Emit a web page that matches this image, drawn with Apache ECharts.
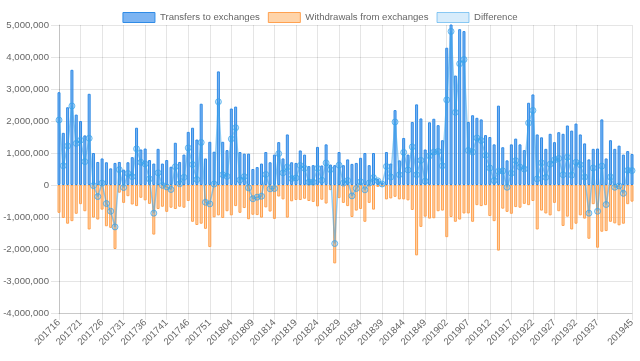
<!DOCTYPE html>
<html>
<head>
<meta charset="utf-8">
<script src="https://cdn.jsdelivr.net/npm/echarts@6/dist/echarts.min.js"></script>
<style>
  html, body { margin: 0; padding: 0; background: #fff; }
  #chart { width: 640px; height: 361px; }
</style>
</head>
<body>
<div id="chart"></div>
<script>
const categories = [
  "201716","201717","201718","201719","201720","201721","201722","201723","201724","201725",
  "201726","201727","201728","201729","201730","201731","201732","201733","201734","201735",
  "201736","201737","201738","201739","201740","201741","201742","201743","201744","201745",
  "201746","201747","201748","201749","201750","201751","201752",
  "201801","201802","201803","201804","201805","201806","201807","201808","201809","201810",
  "201811","201812","201813","201814","201815","201816","201817","201818","201819","201820",
  "201821","201822","201823","201824","201825","201826","201827","201828","201829","201830",
  "201831","201832","201833","201834","201835","201836","201837","201838","201839","201840",
  "201841","201842","201843","201844","201845","201846","201847","201848","201849","201850",
  "201851","201852",
  "201901","201902","201903","201904","201905","201906","201907","201908","201909","201910",
  "201911","201912","201913","201914","201915","201916","201917","201918","201919","201920",
  "201921","201922","201923","201924","201925","201926","201927","201928","201929","201930",
  "201931","201932","201933","201934","201935","201936","201937","201938","201939","201940",
  "201941","201942","201943","201944","201945"
];

const transfersToExchanges = [
  2900000,1630000,2430000,3600000,2200000,2000000,1550000,2850000,1000000,720000,
  830000,710000,520000,690000,720000,480000,710000,870000,1790000,1110000,
  1140000,780000,670000,1130000,670000,780000,570000,1320000,720000,950000,
  1660000,1790000,1420000,2540000,830000,1350000,1040000,3550000,1350000,1090000,
  2390000,2450000,1030000,980000,980000,500000,560000,670000,1030000,710000,
  950000,1340000,830000,1580000,710000,690000,1080000,950000,590000,620000,
  1190000,610000,1270000,640000,620000,1030000,620000,800000,660000,690000,
  850000,1000000,620000,1000000,190000,80000,1030000,670000,2340000,770000,
  1470000,950000,1970000,2520000,2080000,1110000,1960000,2070000,1870000,1400000,
  4290000,5800000,3420000,4870000,4810000,1970000,2180000,2100000,2050000,1560000,
  1500000,1270000,2480000,1180000,770000,1270000,1450000,1270000,1090000,2570000,
  2830000,1580000,1490000,1130000,1600000,1340000,1650000,1600000,1860000,1700000,
  1920000,1580000,1300000,800000,1130000,1140000,2050000,830000,1400000,1130000,
  1230000,950000,1060000,970000
];

const withdrawalsFromExchanges = [
  -870000,-1030000,-1210000,-1130000,-900000,-600000,-820000,-1390000,-1020000,-1080000,
  -770000,-1290000,-1340000,-2000000,-240000,-560000,-350000,-610000,-660000,-400000,
  -480000,-590000,-1550000,-750000,-680000,-840000,-710000,-750000,-680000,-710000,
  -500000,-1150000,-1250000,-1210000,-1370000,-1940000,-1010000,-950000,-1030000,-820000,
  -950000,-660000,-870000,-720000,-1070000,-930000,-940000,-1020000,-700000,-830000,
  -1060000,-360000,-450000,-1020000,-510000,-470000,-470000,-430000,-500000,-530000,
  -670000,-460000,-580000,-160000,-2450000,-410000,-560000,-660000,-1000000,-800000,
  -750000,-1150000,-560000,-770000,-60000,-50000,-450000,-420000,-370000,-450000,
  -450000,-480000,-780000,-2200000,-1310000,-990000,-1050000,-1040000,-820000,-800000,
  -1630000,-1000000,-1150000,-1080000,-890000,-890000,-1150000,-630000,-660000,-630000,
  -970000,-1130000,-2050000,-740000,-840000,-900000,-690000,-710000,-590000,-630000,
  -500000,-1390000,-800000,-890000,-950000,-560000,-820000,-1280000,-990000,-1390000,
  -1210000,-950000,-1050000,-1680000,-600000,-1960000,-1460000,-1440000,-1150000,-1200000,
  -1260000,-1210000,-600000,-520000
];

const difference = [
  2030000,600000,1220000,2470000,1300000,1400000,730000,1460000,-20000,-360000,
  60000,-580000,-820000,-1310000,480000,-80000,360000,260000,1130000,710000,
  660000,190000,-880000,380000,-10000,-60000,-140000,570000,40000,240000,
  1160000,640000,170000,1330000,-540000,-590000,30000,2600000,320000,270000,
  1440000,1790000,160000,260000,-90000,-430000,-380000,-350000,330000,-120000,
  -110000,980000,380000,560000,200000,220000,610000,520000,90000,90000,
  520000,150000,690000,480000,-1830000,620000,60000,140000,-340000,-110000,
  100000,-150000,60000,230000,130000,30000,580000,250000,1970000,320000,
  1020000,470000,1190000,320000,770000,120000,910000,1030000,1050000,600000,
  2660000,4800000,2270000,3790000,3920000,1080000,1030000,1470000,1390000,930000,
  530000,140000,430000,440000,-70000,370000,760000,560000,500000,1940000,
  2330000,190000,690000,240000,650000,780000,830000,320000,870000,310000,
  710000,630000,250000,-880000,530000,-820000,590000,-610000,250000,-70000,
  -30000,-260000,460000,450000
];

const seriesNames = ["Transfers to exchanges", "Withdrawals from exchanges", "Difference"];
const yTicks = { min: -4000000, max: 5000000, step: 1000000 };

const FONT = "'Liberation Sans', Arial, Helvetica, sans-serif";
const lastIdx = categories.length - 1;
const shown = function (i) { return (i % 5 === 0 && i <= lastIdx - 5) || i === lastIdx; };

const chart = echarts.init(document.getElementById('chart'), null, { renderer: 'canvas' });
chart.setOption({
  animation: false,
  backgroundColor: '#ffffff',
  textStyle: { fontFamily: FONT },
  legend: {
    top: 7,
    left: 'center',
    itemWidth: 32,
    itemHeight: 10,
    itemGap: 8,
    textStyle: { color: '#666', fontSize: 9.6, fontFamily: FONT },
    data: [
      { name: seriesNames[0], icon: 'rect', itemStyle: { color: 'rgba(54,140,235,0.65)', borderColor: '#2f8be6', borderWidth: 1 } },
      { name: seriesNames[1], icon: 'rect', itemStyle: { color: 'rgba(255,159,64,0.45)', borderColor: '#ffa150', borderWidth: 1 } },
      { name: seriesNames[2], icon: 'rect', itemStyle: { color: 'rgba(54,162,235,0.2)', borderColor: 'rgba(54,162,235,0.55)', borderWidth: 1 } }
    ]
  },
  grid: { left: 59, right: 8, top: 25, bottom: 48, containLabel: false },
  xAxis: {
    type: 'category',
    data: categories,
    boundaryGap: false,
    axisLine: { show: true, onZero: false, lineStyle: { color: 'rgba(0,0,0,0.12)' } },
    axisTick: { show: true, interval: function (i) { return shown(i); }, length: 7, lineStyle: { color: 'rgba(0,0,0,0.1)' } },
    axisLabel: {
      interval: function (i) { return shown(i); },
      rotate: 45,
      color: '#666',
      fontSize: 9.6,
      fontFamily: FONT,
      margin: 8
    },
    splitLine: { show: true, interval: function (i) { return shown(i); }, lineStyle: { color: 'rgba(0,0,0,0.1)' } }
  },
  yAxis: {
    type: 'value',
    min: yTicks.min,
    max: yTicks.max,
    interval: yTicks.step,
    axisLine: { show: true, lineStyle: { color: 'rgba(0,0,0,0.15)' } },
    axisTick: { show: true, length: 8, lineStyle: { color: 'rgba(0,0,0,0.1)' } },
    axisLabel: {
      color: '#666',
      fontSize: 9.6,
      fontFamily: FONT,
      margin: 10,
      formatter: function (v) { return Number(v).toLocaleString('en-US'); }
    },
    splitLine: { show: true, lineStyle: { color: 'rgba(0,0,0,0.1)' } }
  },
  series: [
    {
      name: seriesNames[0],
      type: 'bar',
      stack: 'flow',
      data: transfersToExchanges,
      barWidth: 3,
      itemStyle: { color: 'rgba(54,140,235,0.65)', borderColor: '#2f8be6', borderWidth: 1 },
      z: 2
    },
    {
      name: seriesNames[1],
      type: 'bar',
      stack: 'flow',
      data: withdrawalsFromExchanges,
      barWidth: 3,
      itemStyle: { color: 'rgba(255,159,64,0.45)', borderColor: '#ffa150', borderWidth: 1 },
      z: 2
    },
    {
      name: seriesNames[2],
      type: 'line',
      data: difference,
      symbol: 'circle',
      symbolSize: 6,
      showAllSymbol: true,
      lineStyle: { color: 'rgba(54,162,235,0.55)', width: 1.5 },
      itemStyle: { color: 'rgba(54,162,235,0.25)', borderColor: 'rgba(54,162,235,0.7)', borderWidth: 1 },
      z: 5
    }
  ]
});
</script>
</body>
</html>
